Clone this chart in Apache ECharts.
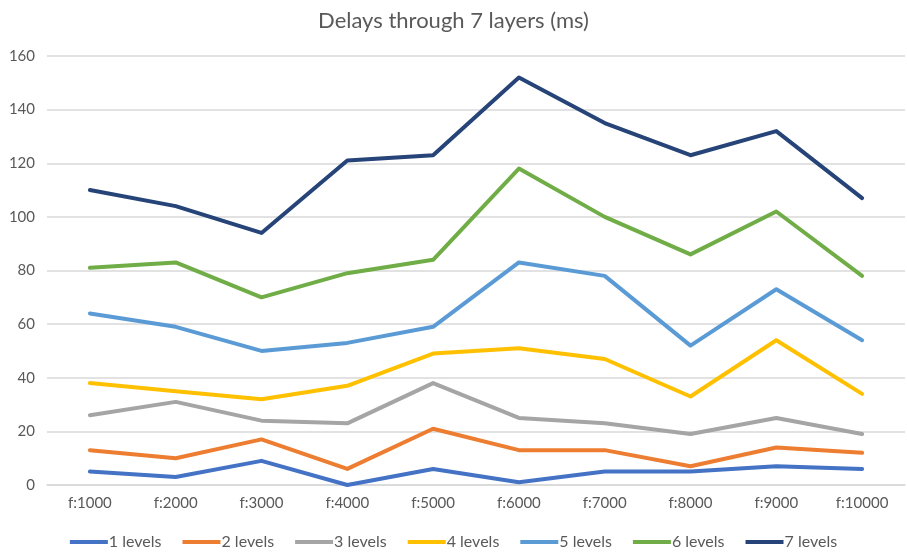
<!DOCTYPE html>
<html>
<head>
<meta charset="utf-8">
<script src="https://cdn.jsdelivr.net/npm/echarts@6/dist/echarts.min.js"></script>
<style>
  html, body { margin: 0; padding: 0; background: #fff; }
  #chart { width: 907px; height: 555px; }
</style>
</head>
<body>
<div id="chart"></div>
<script>
var categories = ['f:1000', 'f:2000', 'f:3000', 'f:4000', 'f:5000', 'f:6000', 'f:7000', 'f:8000', 'f:9000', 'f:10000'];
var levels1 = [5, 3, 9, 0, 6, 1, 5, 5, 7, 6];
var levels2 = [13, 10, 17, 6, 21, 13, 13, 7, 14, 12];
var levels3 = [26, 31, 24, 23, 38, 25, 23, 19, 25, 19];
var levels4 = [38, 35, 32, 37, 49, 51, 47, 33, 54, 34];
var levels5 = [64, 59, 50, 53, 59, 83, 78, 52, 73, 54];
var levels6 = [81, 83, 70, 79, 84, 118, 100, 86, 102, 78];
var levels7 = [110, 104, 94, 121, 123, 152, 135, 123, 132, 107];
var seriesNames = ['1 levels', '2 levels', '3 levels', '4 levels', '5 levels', '6 levels', '7 levels'];
var colors = ['#4472C4', '#ED7D31', '#A5A5A5', '#FFC000', '#5B9BD5', '#70AD47', '#264478'];

var chart = echarts.init(document.getElementById('chart'));
var allData = [levels1, levels2, levels3, levels4, levels5, levels6, levels7];
var series = [];
for (var i = 0; i < allData.length; i++) {
    series.push({
        name: seriesNames[i],
        type: 'line',
        data: allData[i],
        symbol: 'none',
        lineStyle: { width: 4, color: colors[i], cap: 'round', join: 'round' },
        itemStyle: { color: colors[i] }
    });
}

var font = 'Lato, "Open Sans", sans-serif';
var option = {
    animation: false,
    title: {
        text: 'Delays through 7 layers (ms)',
        left: 'center',
        top: 5,
        textStyle: { fontFamily: font, fontSize: 22, fontWeight: 'normal', color: '#595959' }
    },
    legend: {
        bottom: 0,
        left: 'center',
        icon: 'rect',
        itemWidth: 38,
        itemHeight: 4,
        itemGap: 21,
        textStyle: { fontFamily: font, fontSize: 16, color: '#595959', padding: [0, 0, 0, -4] }
    },
    grid: { left: 47, right: 2, top: 56, bottom: 70 },
    xAxis: {
        type: 'category',
        data: categories,
        boundaryGap: true,
        axisLine: { lineStyle: { color: '#d9d9d9', width: 1.5 } },
        axisTick: { show: false },
        axisLabel: { fontFamily: font, fontSize: 15, color: '#595959', margin: 11, interval: 0 }
    },
    yAxis: {
        type: 'value',
        min: 0,
        max: 160,
        interval: 20,
        axisLine: { show: false },
        axisTick: { show: false },
        splitLine: { lineStyle: { color: '#d9d9d9', width: 1.5 } },
        axisLabel: { fontFamily: font, fontSize: 15, color: '#595959', margin: 12 }
    },
    series: series
};
chart.setOption(option);
</script>
</body>
</html>
